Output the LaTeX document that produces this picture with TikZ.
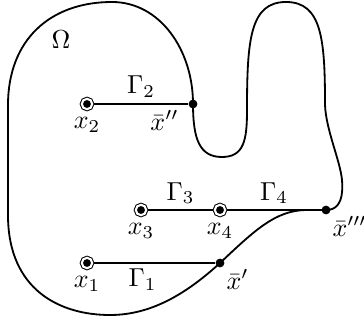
\documentclass[tikz,border=0pt]{standalone}
\usetikzlibrary{positioning}
\tikzset{
  srcpt/.style={circle, fill=black, draw=black, double=white, double distance=0.8pt,
    line width=0.4pt, minimum size=4pt, inner sep=0pt, outer sep=0.8pt},
  endpt/.style={circle, fill=black, minimum size=3.4pt, inner sep=0pt},
  bdry/.style={line width=0.7pt},
  seg/.style={line width=0.7pt}
}
\begin{document}
\begin{tikzpicture}[x=0.385pt, y=-0.385pt]
  \useasboundingbox (0,0) rectangle (364,324);
  % boundary of Omega
  \draw[bdry] (193,104) .. controls (193,140) and (200,157) .. (222,157)
    .. controls (244,157) and (247,140) .. (247,110)
    .. controls (247,40) and (250,2) .. (286,2)
    .. controls (322,2) and (325,40) .. (325,105)
    .. controls (326,130) and (340,160) .. (342,180)
    .. controls (344,205) and (335,210) .. (326,210)
    -- (305,210) .. controls (275,211) and (255,230) .. (220,263)
    .. controls (185,295) and (150,315) .. (110,315)
    .. controls (60,315) and (8,290) .. (8,215)
    -- (8,105) .. controls (8,40) and (50,2) .. (112,2)
    .. controls (160,2) and (193,50) .. cycle;
  \node at (61,40) {$\Omega$};

  % end points on the boundary
  \node[endpt, label={[inner sep=1pt, xshift=-3pt]below left:$\bar{x}''$}] (xb2) at (193,104) {};
  \node[endpt, label={[inner sep=1pt]below right:$\bar{x}'''$}] (xb3) at (326,210) {};
  \node[endpt, label={[inner sep=1pt]below right:$\bar{x}'$}] (xb1) at (220,263) {};

  % sources
  \node[srcpt, label={[inner sep=2pt]below:$x_2$}] (x2) at (87,104) {};
  \node[srcpt, label={[inner sep=2pt]below:$x_3$}] (x3) at (141,210) {};
  \node[srcpt, label={[inner sep=2pt]below:$x_4$}] (x4) at (220,210) {};
  \node[srcpt, label={[inner sep=2pt]below:$x_1$}] (x1) at (87,263) {};

  % paths
  \draw[seg] (x2) -- node[above, inner sep=2pt]{$\Gamma_2$} (xb2);
  \draw[seg] (x3) -- node[above, inner sep=2pt]{$\Gamma_3$} (x4);
  \draw[seg] (x4) -- node[above, inner sep=2pt]{$\Gamma_4$} (xb3);
  \draw[seg] (x1) -- node[below, pos=0.4, inner sep=2pt]{$\Gamma_1$} (xb1);
\end{tikzpicture}
\end{document}
